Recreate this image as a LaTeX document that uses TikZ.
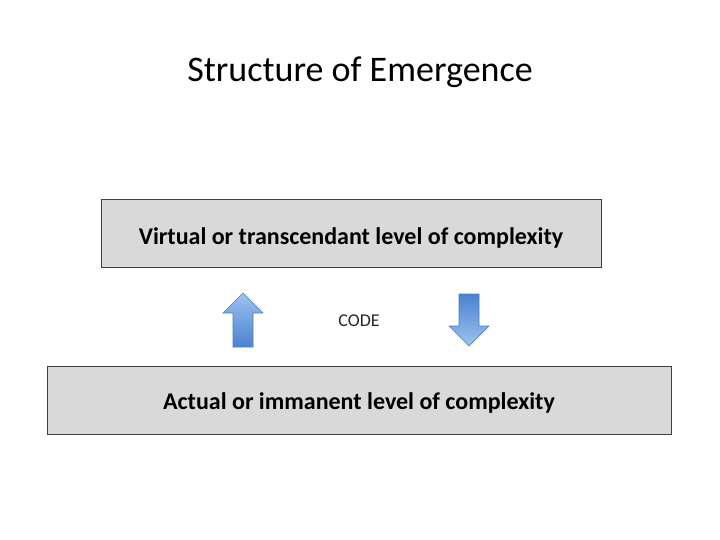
\documentclass[tikz,border=0pt]{standalone}
\usepackage{fontspec}
\setmainfont{Carlito}
\definecolor{arlight}{HTML}{9DC3F0}
\definecolor{ardark}{HTML}{4A82D0}
\definecolor{arline}{HTML}{4A7EBB}
\definecolor{boxfill}{HTML}{D9D9D9}
\definecolor{boxline}{HTML}{404040}
\begin{document}
\begin{tikzpicture}[x=1pt,y=-1pt,
  level/.style={draw=boxline,line width=0.8pt,fill=boxfill,inner sep=0pt,text depth=0pt,font=\fontsize{24}{28}\selectfont\bfseries},
  upblue/.style={draw=arline,line width=0.6pt,top color=arlight,bottom color=ardark},
  downblue/.style={draw=arline,line width=0.6pt,top color=ardark,bottom color=arlight}]
\useasboundingbox (0,0) rectangle (720,540);
\fill[white] (0,0) rectangle (720,540);
\node[font=\fontsize{36}{42}\selectfont] (title) at (360,72) {Structure of Emergence};
\node[level,text height=22pt,minimum width=500pt,minimum height=68pt] (virt) at (351,233) {Virtual or transcendant level of complexity};
\node[level,text height=18pt,minimum width=624pt,minimum height=68pt] (act) at (359,400) {Actual or immanent level of complexity};
\node[font=\fontsize{18}{22}\selectfont,text=black!85] (code) at (359,321) {CODE};
\shadedraw[upblue] (233,347) -- (233,313) -- (223,313) -- (243,293) -- (263,313) -- (253,313) -- (253,347) -- cycle;
\shadedraw[downblue] (459,294) -- (459,326) -- (449,326) -- (469,346) -- (489,326) -- (479,326) -- (479,294) -- cycle;
\end{tikzpicture}
\end{document}
